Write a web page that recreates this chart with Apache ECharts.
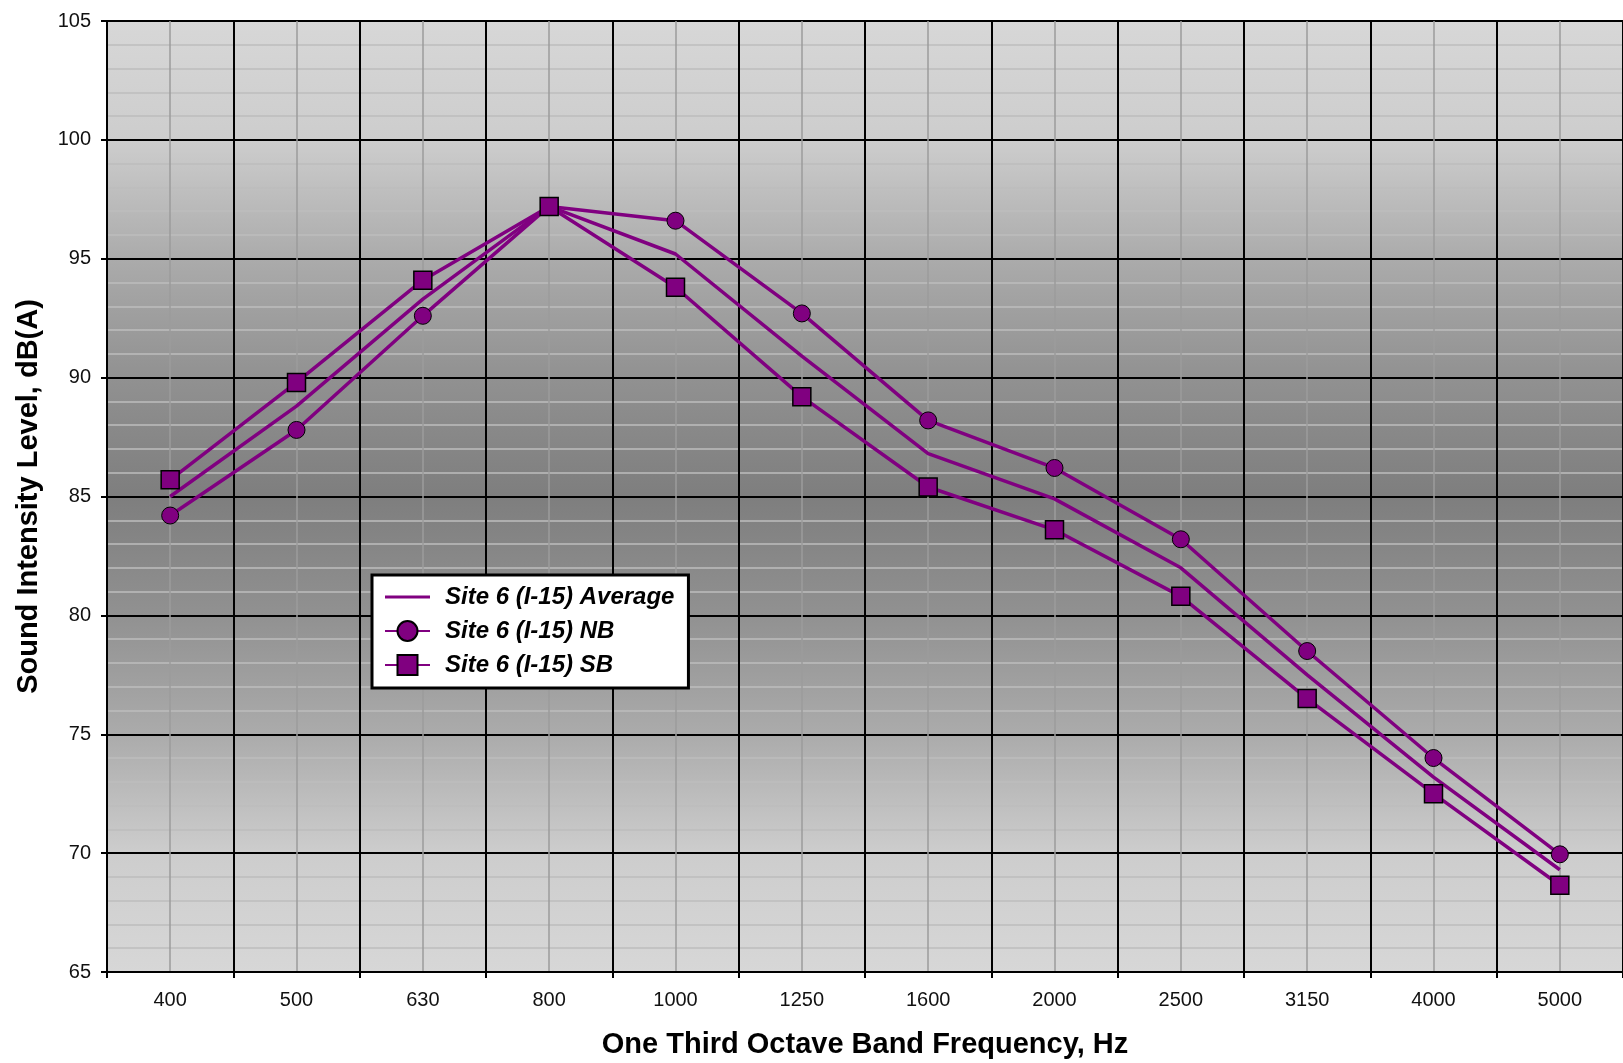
<!DOCTYPE html>
<html>
<head>
<meta charset="utf-8">
<script src="https://cdn.jsdelivr.net/npm/echarts@6/dist/echarts.min.js"></script>
<style>
html,body{margin:0;padding:0;background:#fff;}
#chart{width:1623px;height:1063px;}
</style>
</head>
<body>
<div id="chart"></div>
<script>
const categories = ['400','500','630','800','1000','1250','1600','2000','2500','3150','4000','5000'];
const avgValues = [85.0, 88.8, 93.3, 97.2, 95.2, 90.9, 86.8, 84.9, 82.0, 77.5, 73.2, 69.3];
const nbValues  = [84.2, 87.8, 92.6, 97.2, 96.6, 92.7, 88.2, 86.2, 83.2, 78.5, 74.0, 69.95];
const sbValues  = [85.7, 89.8, 94.1, 97.2, 93.8, 89.2, 85.4, 83.6, 80.8, 76.5, 72.5, 68.65];
const yMin = 65, yMax = 105, yStep = 5;
const seriesNames = ['Site 6 (I-15) Average', 'Site 6 (I-15) NB', 'Site 6 (I-15) SB'];

const purple = '#800080';
const chart = echarts.init(document.getElementById('chart'), null, {renderer: 'canvas'});
const labelFont = {fontFamily: '"Liberation Sans", Arial, sans-serif', fontSize: 20, color: '#111'};
const titleFont = {fontFamily: '"Liberation Sans", Arial, sans-serif', fontSize: 29, fontWeight: 'bold', color: '#000'};
const lineOnlyIcon = 'path://M0,0 M0,11 L45,11 L45,14 L0,14 Z M45,25';

chart.setOption({
  animation: false,
  backgroundColor: '#fff',
  grid: {
    left: 107, top: 21, right: 0, bottom: 91,
    containLabel: false,
    outerBoundsMode: 'none',
    show: true, borderWidth: 0,
    backgroundColor: new echarts.graphic.LinearGradient(0, 0, 0, 1, [
      {offset: 0, color: '#d7d7d7'},
      {offset: 0.125, color: '#cdcdcd'},
      {offset: 0.25, color: '#ababab'},
      {offset: 0.375, color: '#919191'},
      {offset: 0.5, color: '#7e7e7e'},
      {offset: 0.625, color: '#919191'},
      {offset: 0.75, color: '#ababab'},
      {offset: 0.875, color: '#cdcdcd'},
      {offset: 1, color: '#d7d7d7'}
    ])
  },
  legend: {
    orient: 'vertical',
    left: 372, top: 575,
    data: [{name: seriesNames[0], icon: lineOnlyIcon}, seriesNames[1], seriesNames[2]],
    backgroundColor: '#fff',
    borderColor: '#000', borderWidth: 3,
    padding: [8, 14, 9, 12],
    itemWidth: 45, itemHeight: 25, itemGap: 6,
    textStyle: {fontFamily: '"Liberation Sans", Arial, sans-serif', fontSize: 24, fontWeight: 'bold', fontStyle: 'italic', color: '#000', lineHeight: 28, padding: [0, 0, 0, 10]}
  },
  xAxis: [{
    type: 'category',
    data: categories,
    boundaryGap: true,
    name: 'One Third Octave Band Frequency, Hz',
    nameLocation: 'middle', nameGap: 58,
    nameTextStyle: titleFont,
    axisLine: {show: true, lineStyle: {color: '#000', width: 2}},
    axisTick: {show: true, length: 6, lineStyle: {color: '#000', width: 2}},
    axisLabel: Object.assign({margin: 18}, labelFont),
    splitLine: {show: true, lineStyle: {color: '#000', width: 2}}
  }, {
    type: 'value', min: 0, max: 12, interval: 1,
    axisLine: {show: false}, axisTick: {show: false}, axisLabel: {show: false},
    splitLine: {show: false},
    minorTick: {show: false, splitNumber: 2},
    minorSplitLine: {show: true, lineStyle: {color: '#9c9c9c', width: 1.5}}
  }],
  yAxis: {
    type: 'value', min: yMin, max: yMax, interval: yStep,
    name: 'Sound Intensity Level, dB(A)',
    nameLocation: 'middle', nameGap: 64,
    nameTextStyle: titleFont,
    axisLine: {show: true, lineStyle: {color: '#000', width: 2}},
    axisTick: {show: true, length: 6, lineStyle: {color: '#000', width: 2}},
    axisLabel: Object.assign({margin: 16}, labelFont),
    splitLine: {show: true, lineStyle: {color: '#000', width: 2}},
    minorTick: {show: false, splitNumber: 5},
    minorSplitLine: {show: true, lineStyle: {color: '#bdbdbd', width: 1.5}}
  },
  series: [{
    name: seriesNames[0], type: 'line', data: avgValues,
    symbol: 'none',
    lineStyle: {color: purple, width: 3.5},
    itemStyle: {color: purple}
  }, {
    name: seriesNames[1], type: 'line', data: nbValues,
    symbol: 'circle', symbolSize: 17,
    lineStyle: {color: purple, width: 3.5},
    itemStyle: {color: purple, borderColor: '#000', borderWidth: 1}
  }, {
    name: seriesNames[2], type: 'line', data: sbValues,
    symbol: 'rect', symbolSize: 18,
    lineStyle: {color: purple, width: 3.5},
    itemStyle: {color: purple, borderColor: '#000', borderWidth: 1.5}
  }]
});
</script>
</body>
</html>
